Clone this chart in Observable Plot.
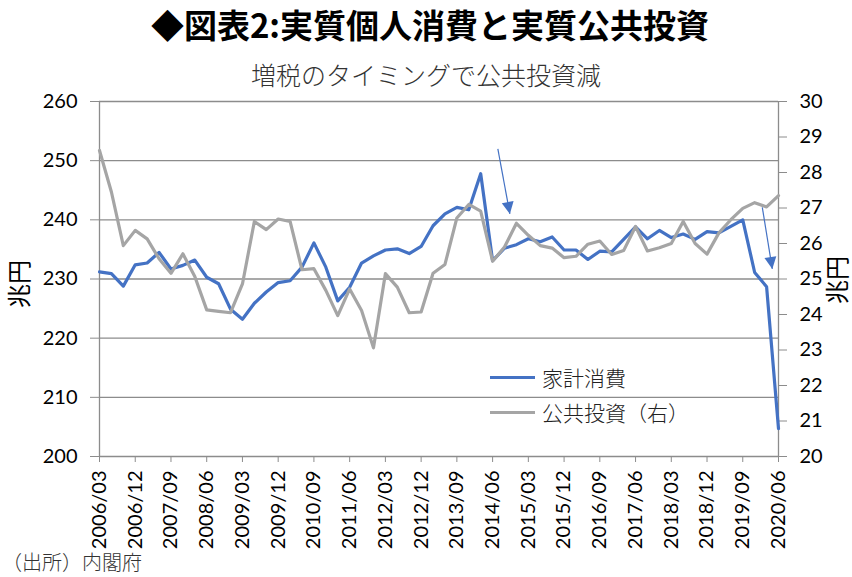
<!DOCTYPE html>
<html>
<head>
<meta charset="utf-8">
<script src="https://cdn.jsdelivr.net/npm/d3@7"></script>
<script src="https://cdn.jsdelivr.net/npm/@observablehq/plot@0.6"></script>
<style>
  html, body { margin: 0; padding: 0; background: #fff; }
  #wrap { position: relative; width: 852px; height: 577px; overflow: hidden; background: #fff; }
  #title { position: absolute; top: 1px; left: 4px; width: 852px; text-align: center;
    font-family: "Noto Sans CJK JP"; font-weight: 700; font-size: 33px; line-height: 46px; color: #000; letter-spacing: 0px; }
  #subtitle { position: absolute; top: 57px; left: 0; width: 852px; text-align: center;
    font-family: "Noto Sans CJK JP"; font-weight: 300; font-size: 25px; line-height: 34px; color: #333; }
  #chart { position: absolute; top: 88px; left: 0; }
  #caption { position: absolute; top: 549px; left: 2px; font-family: "Noto Sans CJK JP"; font-weight: 300;
    font-size: 20px; line-height: 26px; color: #333; }
  .leg { position: absolute; left: 490px; height: 30px; display: flex; align-items: center;
    font-family: "Noto Sans CJK JP"; font-weight: 300; font-size: 21px; color: #222; }
  .leg .sw { width: 45px; height: 3px; margin-right: 7px; }
</style>
</head>
<body>
<div id="wrap">
  <div id="title"></div>
  <div id="subtitle"></div>
  <div id="chart"></div>
  <div id="legend"></div>
  <div id="caption"></div>
</div>
<script>
const titleText = "◆図表2:実質個人消費と実質公共投資";
const subtitleText = "増税のタイミングで公共投資減";
const captionText = "（出所）内閣府";
const unitLabel = "兆円";
const seriesNames = ["家計消費", "公共投資（右）"];
const seriesColors = ["#4472C4", "#A5A5A5"];

const quarters = [
  "2006/03","2006/06","2006/09","2006/12","2007/03","2007/06","2007/09","2007/12",
  "2008/03","2008/06","2008/09","2008/12","2009/03","2009/06","2009/09","2009/12",
  "2010/03","2010/06","2010/09","2010/12","2011/03","2011/06","2011/09","2011/12",
  "2012/03","2012/06","2012/09","2012/12","2013/03","2013/06","2013/09","2013/12",
  "2014/03","2014/06","2014/09","2014/12","2015/03","2015/06","2015/09","2015/12",
  "2016/03","2016/06","2016/09","2016/12","2017/03","2017/06","2017/09","2017/12",
  "2018/03","2018/06","2018/09","2018/12","2019/03","2019/06","2019/09","2019/12",
  "2020/03","2020/06"
];

// 家計消費 (left axis, 兆円)
const consumption = [
  231.2, 230.9, 228.8, 232.4, 232.7, 234.5, 231.7, 232.3,
  233.2, 230.3, 229.2, 224.9, 223.2, 225.9, 227.8, 229.4,
  229.7, 232.0, 236.1, 232.0, 226.3, 228.6, 232.7, 233.9,
  234.9, 235.1, 234.3, 235.5, 239.0, 241.0, 242.1, 241.7,
  247.8, 233.1, 235.2, 235.8, 236.8, 236.3, 237.1, 234.9,
  234.9, 233.3, 234.7, 234.6, 236.7, 238.8, 236.8, 238.2,
  237.0, 237.6, 236.7, 238.0, 237.8, 238.9, 240.0, 231.1,
  228.7, 204.7
];

// 公共投資 (right axis, 兆円)
const publicInvestment = [
  28.62, 27.45, 25.94, 26.37, 26.13, 25.57, 25.16, 25.71,
  25.07, 24.13, 24.09, 24.05, 24.86, 26.62, 26.39, 26.69,
  26.62, 25.26, 25.29, 24.68, 23.97, 24.72, 24.11, 23.06,
  25.15, 24.77, 24.05, 24.07, 25.16, 25.41, 26.72, 27.10,
  26.91, 25.50, 25.90, 26.57, 26.23, 25.94, 25.87, 25.60,
  25.64, 25.98, 26.07, 25.69, 25.80, 26.48, 25.79, 25.88,
  26.00, 26.62, 26.00, 25.70, 26.30, 26.67, 26.99, 27.15,
  27.03, 27.35
];

const leftTicks = [200, 210, 220, 230, 240, 250, 260];
const rightTicks = [20, 21, 22, 23, 24, 25, 26, 27, 28, 29, 30];
const xTickLabels = ["2006/03","2006/12","2007/09","2008/06","2009/03","2009/12","2010/09",
  "2011/06","2012/03","2012/12","2013/09","2014/06","2015/03","2015/12","2016/09",
  "2017/06","2018/03","2018/12","2019/09","2020/06"];

// annotation arrows (quarter index / left-axis value)
const arrowNotes = [
  {x1: 33.44, y1: 252.0, x2: 34.45, y2: 241.0, rot: -10.5},
  {x1: 55.64, y1: 242.1, x2: 56.48, y2: 231.7, rot: -9.2}
];

document.getElementById("title").textContent = titleText;
document.getElementById("subtitle").textContent = subtitleText;
document.getElementById("caption").textContent = captionText;

// map right-axis values onto the left scale
const toLeft = v => 200 + (v - 20) * 6;
const fromLeft = v => (v - 200) / 6 + 20;

const data = quarters.map((q, i) => ({i, q, c: consumption[i], g: toLeft(publicInvestment[i])}));
const tickIdx = xTickLabels.map(l => quarters.indexOf(l));

const headSymbol = {
  draw(ctx, size) {
    const r = Math.sqrt(size / Math.PI);
    ctx.moveTo(0, 0);
    ctx.lineTo(-r, -2 * r);
    ctx.lineTo(r, -2 * r);
    ctx.closePath();
  }
};

const axisGray = "#8c8c8c";

const chart = Plot.plot({
  width: 852,
  height: 460,
  marginTop: 13,
  marginBottom: 92,
  marginLeft: 99,
  marginRight: 74,
  style: {fontFamily: "Lato, 'Noto Sans CJK JP'", background: "transparent", overflow: "visible", color: "#000"},
  x: {domain: [0, quarters.length - 1], axis: null},
  y: {domain: [leftTicks[0], leftTicks[leftTicks.length - 1]], axis: null},
  marks: [
    Plot.ruleY(leftTicks, {stroke: axisGray, strokeWidth: 1.3}),
    Plot.ruleX([0, quarters.length - 1], {stroke: axisGray, strokeWidth: 1.3}),
    Plot.axisY(leftTicks, {
      anchor: "left", tickSize: 9, tickPadding: 13, fontSize: 20, stroke: axisGray, fill: "#000", label: null
    }),
    Plot.axisY(rightTicks.map(toLeft), {
      anchor: "right", tickSize: 8, tickPadding: 13, fontSize: 20, stroke: axisGray, fill: "#000",
      tickFormat: d => String(Math.round(fromLeft(d))), label: null
    }),
    Plot.axisX(tickIdx, {
      anchor: "bottom", tickSize: 6, tickPadding: 8, fontSize: 20, stroke: axisGray, fill: "#000",
      tickRotate: -90, tickFormat: i => quarters[i], label: null
    }),
    Plot.text([unitLabel], {frameAnchor: "left", textAnchor: "middle", rotate: -90, dx: -79, dy: 5, fontSize: 24,
      fontFamily: "Noto Sans CJK JP", fill: "#000"}),
    Plot.text([unitLabel], {frameAnchor: "right", textAnchor: "middle", rotate: -90, dx: 60, dy: 1, fontSize: 24,
      fontFamily: "Noto Sans CJK JP", fill: "#000"}),
    Plot.line(data, {x: "i", y: "c", stroke: seriesColors[0], strokeWidth: 3.2}),
    Plot.line(data, {x: "i", y: "g", stroke: seriesColors[1], strokeWidth: 3.2}),
    Plot.link(arrowNotes, {x1: "x1", y1: "y1", x2: "x2", y2: "y2", stroke: seriesColors[0], strokeWidth: 1.2}),
    Plot.dot(arrowNotes, {x: "x2", y: "y2", symbol: headSymbol, r: 6, rotate: "rot", fill: seriesColors[0], stroke: "none"})
  ]
});
document.getElementById("chart").appendChild(chart);

const legend = document.getElementById("legend");
const legendTops = [362, 397];
seriesNames.forEach((name, k) => {
  const item = document.createElement("div");
  item.className = "leg";
  item.style.top = legendTops[k] + "px";
  const sw = document.createElement("span");
  sw.className = "sw";
  sw.style.background = seriesColors[k];
  const tx = document.createElement("span");
  tx.textContent = name;
  item.appendChild(sw);
  item.appendChild(tx);
  legend.appendChild(item);
});
</script>
</body>
</html>
